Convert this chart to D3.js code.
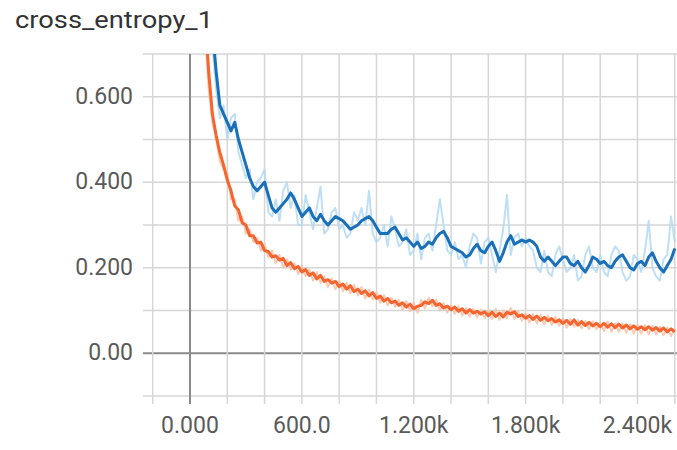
<!DOCTYPE html>
<html>
<head>
<meta charset="utf-8">
<script src="https://cdn.jsdelivr.net/npm/d3@7"></script>
<style>
  body { margin: 0; background: #fff; }
  svg { display: block; font-family: Roboto, "Noto Sans", sans-serif; }
</style>
</head>
<body>
<div id="chart"></div>
<script>
        // steps are logged every 20 iterations
        const steps = d3.range(0, 2601, 20);

        // blue run, smoothed line
        const blueSmooth = [
            1.60, 1.45, 1.30, 1.15, 1.00, 0.88, 0.76, 0.66, 0.58, 0.56,
            0.54, 0.52, 0.54, 0.50, 0.47, 0.44, 0.41, 0.39, 0.38, 0.39,
            0.40, 0.37, 0.34, 0.33, 0.34, 0.35, 0.36, 0.375, 0.36, 0.34,
            0.32, 0.33, 0.34, 0.32, 0.31, 0.325, 0.31, 0.30, 0.31, 0.32,
            0.315, 0.31, 0.30, 0.29, 0.295, 0.30, 0.31, 0.315, 0.32, 0.31,
            0.295, 0.28, 0.28, 0.28, 0.29, 0.295, 0.28, 0.265, 0.27, 0.26,
            0.25, 0.26, 0.245, 0.25, 0.26, 0.255, 0.27, 0.28, 0.285, 0.27,
            0.25, 0.245, 0.24, 0.235, 0.225, 0.23, 0.245, 0.255, 0.24, 0.235,
            0.25, 0.26, 0.24, 0.215, 0.235, 0.26, 0.275, 0.255, 0.26, 0.265,
            0.26, 0.265, 0.26, 0.25, 0.225, 0.215, 0.225, 0.215, 0.205, 0.215,
            0.225, 0.225, 0.21, 0.205, 0.215, 0.20, 0.19, 0.205, 0.225, 0.22,
            0.21, 0.215, 0.205, 0.20, 0.215, 0.225, 0.23, 0.215, 0.20, 0.195,
            0.21, 0.215, 0.205, 0.225, 0.235, 0.215, 0.20, 0.19, 0.205, 0.22,
            0.245
        ];

        // blue run, raw values
        const blueRaw = [
            1.60, 1.40, 1.25, 1.10, 0.95, 0.85, 0.72, 0.62, 0.55, 0.58,
            0.50, 0.55, 0.56, 0.47, 0.44, 0.41, 0.43, 0.36, 0.40, 0.41,
            0.43, 0.33, 0.32, 0.36, 0.31, 0.38, 0.40, 0.34, 0.37, 0.30,
            0.30, 0.37, 0.33, 0.29, 0.34, 0.39, 0.28, 0.29, 0.33, 0.34,
            0.29, 0.30, 0.27, 0.28, 0.33, 0.31, 0.34, 0.30, 0.38, 0.28,
            0.26, 0.27, 0.30, 0.25, 0.32, 0.29, 0.25, 0.26, 0.29, 0.23,
            0.24, 0.28, 0.22, 0.27, 0.28, 0.24, 0.30, 0.36, 0.30, 0.24,
            0.23, 0.26, 0.22, 0.23, 0.20, 0.25, 0.28, 0.27, 0.21, 0.26,
            0.27, 0.23, 0.19, 0.24, 0.29, 0.37, 0.23, 0.27, 0.28, 0.25,
            0.27, 0.25, 0.24, 0.20, 0.19, 0.24, 0.19, 0.18, 0.23, 0.25,
            0.22, 0.19, 0.20, 0.23, 0.17, 0.18, 0.23, 0.25, 0.20, 0.19,
            0.23, 0.19, 0.18, 0.23, 0.25, 0.24, 0.19, 0.17, 0.18, 0.23,
            0.22, 0.19, 0.24, 0.31, 0.20, 0.18, 0.17, 0.22, 0.23, 0.32,
            0.26
        ];

        // orange run, smoothed line
        const orangeSmooth = [
            1.50, 1.30, 1.12, 0.95, 0.80, 0.66, 0.56, 0.51, 0.47, 0.44,
            0.405, 0.38, 0.345, 0.335, 0.305, 0.30, 0.275, 0.275, 0.258, 0.26,
            0.24, 0.238, 0.225, 0.228, 0.218, 0.222, 0.205, 0.212, 0.198, 0.203,
            0.19, 0.196, 0.182, 0.188, 0.174, 0.182, 0.168, 0.172, 0.164, 0.168,
            0.156, 0.162, 0.15, 0.158, 0.144, 0.15, 0.14, 0.146, 0.134, 0.142,
            0.128, 0.134, 0.122, 0.128, 0.118, 0.122, 0.112, 0.118, 0.108, 0.115,
            0.104, 0.11, 0.112, 0.12, 0.116, 0.124, 0.112, 0.116, 0.106, 0.11,
            0.102, 0.108, 0.098, 0.104, 0.094, 0.102, 0.094, 0.098, 0.092, 0.097,
            0.088, 0.096, 0.086, 0.094, 0.085, 0.096, 0.092, 0.097, 0.086, 0.09,
            0.082, 0.088, 0.079, 0.087, 0.077, 0.084, 0.076, 0.081, 0.073, 0.078,
            0.07, 0.077, 0.068, 0.078, 0.066, 0.074, 0.065, 0.072, 0.064, 0.07,
            0.062, 0.07, 0.061, 0.069, 0.06, 0.068, 0.059, 0.066, 0.057, 0.064,
            0.056, 0.062, 0.055, 0.062, 0.054, 0.06, 0.052, 0.059, 0.05, 0.057,
            0.05
        ];

        // orange run, raw values
        const orangeRaw = [
            1.50, 1.25, 1.08, 0.90, 0.75, 0.62, 0.54, 0.50, 0.45, 0.43,
            0.42, 0.36, 0.36, 0.31, 0.32, 0.28, 0.29, 0.26, 0.27, 0.24,
            0.255, 0.225, 0.24, 0.21, 0.23, 0.20, 0.22, 0.195, 0.21, 0.185,
            0.205, 0.18, 0.195, 0.17, 0.19, 0.165, 0.18, 0.155, 0.175, 0.15,
            0.17, 0.145, 0.165, 0.14, 0.16, 0.135, 0.155, 0.128, 0.148, 0.126,
            0.142, 0.118, 0.136, 0.112, 0.13, 0.108, 0.125, 0.102, 0.122, 0.098,
            0.118, 0.095, 0.125, 0.105, 0.13, 0.11, 0.125, 0.10, 0.118, 0.095,
            0.112, 0.092, 0.11, 0.088, 0.106, 0.086, 0.104, 0.084, 0.102, 0.082,
            0.10, 0.08, 0.104, 0.078, 0.10, 0.082, 0.106, 0.08, 0.098, 0.076,
            0.094, 0.072, 0.092, 0.07, 0.09, 0.068, 0.088, 0.066, 0.085, 0.064,
            0.082, 0.06, 0.08, 0.062, 0.078, 0.058, 0.076, 0.056, 0.075, 0.056,
            0.072, 0.052, 0.074, 0.05, 0.07, 0.05, 0.07, 0.048, 0.068, 0.046,
            0.066, 0.046, 0.066, 0.044, 0.064, 0.044, 0.062, 0.042, 0.06, 0.04,
            0.058
        ];

        const xTicks = [0, 600, 1200, 1800, 2400];
        const xTickLabels = ["0.000", "600.0", "1.200k", "1.800k", "2.400k"];
        const yTicks = [0, 0.2, 0.4, 0.6];
        const yTickLabels = ["0.00", "0.200", "0.400", "0.600"];
        const xGrid = d3.range(-200, 2601, 200);
        const yGrid = d3.range(-1, 8).map(d => d / 10);

        const width = 677;
        const height = 450;

        const svg = d3.select("#chart")
            .append("svg")
            .attr("width", width)
            .attr("height", height);

        // plot area
        const plotLeft = 153, plotTop = 54, plotBottom = 396, plotRight = width;

        const x = d3.scaleLinear().domain([0, 2400]).range([190, 637.5]);
        const y = d3.scaleLinear().domain([-0.1, 0.7]).range([plotBottom, plotTop]);

        // title
        svg.append("text")
            .attr("x", 15)
            .attr("y", 28)
            .attr("font-size", 24)
            .attr("fill", "#333")
            .attr("textLength", 198)
            .attr("lengthAdjust", "spacingAndGlyphs")
            .text("cross_entropy_1");

        // grid
        svg.append("g")
            .selectAll("line")
            .data(yGrid)
            .enter()
            .append("line")
            .attr("x1", plotLeft - 10)
            .attr("x2", plotRight)
            .attr("y1", d => y(d))
            .attr("y2", d => y(d))
            .attr("stroke", d => Math.abs(d) < 1e-9 ? "#8a8a8a" : "#d6d6d6")
            .attr("stroke-width", d => Math.abs(d) < 1e-9 ? 2 : 1.5);

        svg.append("g")
            .selectAll("line")
            .data(xGrid)
            .enter()
            .append("line")
            .attr("x1", d => x(d))
            .attr("x2", d => x(d))
            .attr("y1", plotTop)
            .attr("y2", plotBottom + 8)
            .attr("stroke", d => d === 0 ? "#8a8a8a" : "#d6d6d6")
            .attr("stroke-width", d => d === 0 ? 2 : 1.5);

        // tick labels
        svg.append("g")
            .selectAll("text")
            .data(yTicks)
            .enter()
            .append("text")
            .attr("x", 133)
            .attr("y", d => y(d) + 7)
            .attr("text-anchor", "end")
            .attr("font-size", 23)
            .attr("fill", "#5a5a5a")
            .text((d, i) => yTickLabels[i]);

        svg.append("g")
            .selectAll("text")
            .data(xTicks)
            .enter()
            .append("text")
            .attr("x", d => x(d))
            .attr("y", 433)
            .attr("text-anchor", "middle")
            .attr("font-size", 23)
            .attr("fill", "#5a5a5a")
            .text((d, i) => xTickLabels[i]);

        // clip lines to the plot
        svg.append("clipPath")
            .attr("id", "plot-clip")
            .append("rect")
            .attr("x", plotLeft)
            .attr("y", plotTop)
            .attr("width", plotRight - plotLeft)
            .attr("height", plotBottom - plotTop);

        const line = d3.line()
            .x((d, i) => x(steps[i]))
            .y(d => y(d));

        const series = [
            { values: orangeRaw, color: "#fbbfa6", w: 2, op: 0.85 },
            { values: blueRaw, color: "#b3d9f3", w: 2, op: 0.85 },
            { values: orangeSmooth, color: "#f4652f", w: 3, op: 1 },
            { values: blueSmooth, color: "#1a70b8", w: 3, op: 1 }
        ];

        svg.append("g")
            .attr("clip-path", "url(#plot-clip)")
            .selectAll("path")
            .data(series)
            .enter()
            .append("path")
            .attr("fill", "none")
            .attr("stroke", d => d.color)
            .attr("stroke-width", d => d.w)
            .attr("stroke-opacity", d => d.op)
            .attr("stroke-linejoin", "round")
            .attr("d", d => line(d.values));
</script>
</body>
</html>
